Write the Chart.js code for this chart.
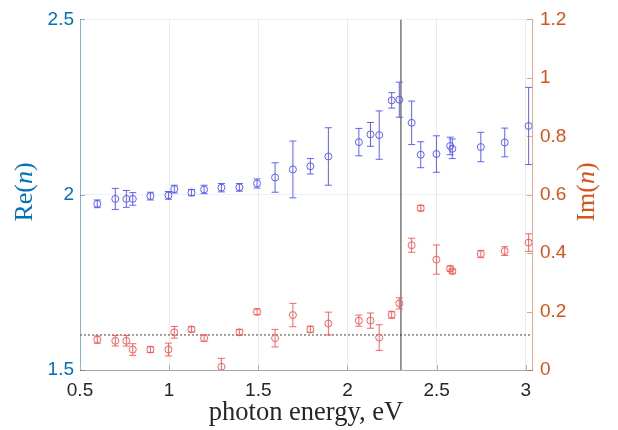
<!DOCTYPE html>
<html>
<head>
<meta charset="utf-8">
<script src="https://cdn.jsdelivr.net/npm/chart.js"></script>
<style>
 body{margin:0;background:#fff;}
 canvas{display:block;}
</style>
</head>
<body>
<canvas id="chart" width="618" height="430" style="width:618px;height:430px"></canvas>
<script>
// photon energies (eV), same for both series
const energy = [0.597, 0.698, 0.760, 0.796, 0.895, 0.996, 1.029, 1.125, 1.196, 1.293,
  1.394, 1.493, 1.594, 1.694, 1.792, 1.893, 2.064, 2.129, 2.178, 2.248,
  2.291, 2.360, 2.411, 2.499, 2.576, 2.588, 2.748, 2.882, 3.016];

const reN = [1.974, 1.988, 1.988, 1.988, 1.996, 1.998, 2.016, 2.006, 2.015, 2.020,
  2.021, 2.032, 2.049, 2.072, 2.081, 2.109, 2.150, 2.172, 2.170, 2.269,
  2.271, 2.205, 2.114, 2.116, 2.139, 2.131, 2.136, 2.149, 2.196];
const reErr = [0.011, 0.030, 0.024, 0.018, 0.011, 0.011, 0.011, 0.009, 0.012, 0.012,
  0.011, 0.013, 0.042, 0.081, 0.022, 0.082, 0.039, 0.034, 0.069, 0.022,
  0.050, 0.062, 0.037, 0.052, 0.025, 0.028, 0.042, 0.041, 0.11];

const imN = [0.104, 0.100, 0.100, 0.070, 0.070, 0.070, 0.129, 0.139, 0.109, 0.011,
  0.129, 0.199, 0.109, 0.188, 0.139, 0.159, 0.169, 0.169, 0.111, 0.189,
  0.228, 0.427, 0.554, 0.378, 0.347, 0.338, 0.397, 0.407, 0.436];
const imErr = [0.0125, 0.018, 0.018, 0.020, 0.010, 0.022, 0.020, 0.009, 0.011, 0.029,
  0.010, 0.010, 0.030, 0.040, 0.011, 0.039, 0.019, 0.026, 0.044, 0.012,
  0.019, 0.024, 0.0095, 0.050, 0.009, 0.007, 0.0125, 0.015, 0.030];

const xTicks = [0.5, 1, 1.5, 2, 2.5, 3];
const reTicks = [1.5, 2, 2.5];
const imTicks = [0, 0.2, 0.4, 0.6, 0.8, 1, 1.2];

const edgeEnergy = 2.3;   // vertical line
const refRe = 1.6;        // dotted level

const BLUE = '#0072BD';
const ORANGE = '#D95319';

Chart.defaults.font.family = '"Liberation Sans", Arial, Helvetica, sans-serif';

// error bars drawn from the data arrays through the chart scales
const errorBars = {
  id: 'errorBars',
  afterDatasetsDraw(chart) {
    const ctx = chart.ctx;
    const area = chart.chartArea;
    const xs = chart.scales.x;
    ctx.save();
    ctx.beginPath();
    ctx.rect(area.left, area.top, area.right - area.left, area.bottom - area.top);
    ctx.clip();
    chart.data.datasets.forEach(ds => {
      if (!ds.errors) return;
      const ys = chart.scales[ds.yAxisID];
      ctx.strokeStyle = ds.borderColor;
      ctx.lineWidth = 1;
      ds.data.forEach((p, i) => {
        const e = ds.errors[i];
        const px = xs.getPixelForValue(p.x);
        const y1 = ys.getPixelForValue(p.y - e);
        const y2 = ys.getPixelForValue(p.y + e);
        ctx.beginPath();
        ctx.moveTo(px, y1); ctx.lineTo(px, y2);
        ctx.moveTo(px - 3.5, y1); ctx.lineTo(px + 3.5, y1);
        ctx.moveTo(px - 3.5, y2); ctx.lineTo(px + 3.5, y2);
        ctx.stroke();
      });
    });
    ctx.restore();
  }
};

// inward tick marks and the rotated y titles
const decorations = {
  id: 'decorations',
  afterDraw(chart) {
    const ctx = chart.ctx;
    const a = chart.chartArea;
    const {x, y, y2} = chart.scales;
    ctx.save();
    ctx.lineWidth = 1;
    ctx.strokeStyle = '#b0b0b0';
    xTicks.forEach(v => {
      const p = Math.round(x.getPixelForValue(v)) + 0.5;
      ctx.beginPath(); ctx.moveTo(p, a.bottom); ctx.lineTo(p, a.bottom - 5); ctx.stroke();
    });
    ctx.strokeStyle = 'rgba(0,114,189,0.5)';
    reTicks.forEach(v => {
      const p = Math.round(y.getPixelForValue(v)) + 0.5;
      ctx.beginPath(); ctx.moveTo(a.left, p); ctx.lineTo(a.left + 5, p); ctx.stroke();
    });
    ctx.strokeStyle = 'rgba(217,83,25,0.55)';
    imTicks.forEach(v => {
      const p = Math.round(y2.getPixelForValue(v)) + 0.5;
      ctx.beginPath(); ctx.moveTo(a.right, p); ctx.lineTo(a.right - 5, p); ctx.stroke();
    });

    const drawTitle = (cx, cy, parts, color) => {
      ctx.save();
      ctx.translate(cx, cy);
      ctx.rotate(-Math.PI / 2);
      ctx.fillStyle = color;
      ctx.textBaseline = 'middle';
      ctx.textAlign = 'left';
      const fonts = parts.map(pt => (pt.italic ? 'italic ' : '') + '26px "Liberation Serif", "Times New Roman", serif');
      let total = 0;
      parts.forEach((pt, i) => { ctx.font = fonts[i]; total += ctx.measureText(pt.t).width; });
      let pos = -total / 2;
      parts.forEach((pt, i) => {
        ctx.font = fonts[i];
        ctx.fillText(pt.t, pos, 0);
        pos += ctx.measureText(pt.t).width;
      });
      ctx.restore();
    };
    drawTitle(25, 192, [{t: 'Re('}, {t: 'n', italic: true}, {t: ')'}], BLUE);
    drawTitle(587, 192, [{t: 'Im('}, {t: 'n', italic: true}, {t: ')'}], ORANGE);
    ctx.restore();
  }
};

const rePoints = energy.map((e, i) => ({x: e, y: reN[i]}));
const imPoints = energy.map((e, i) => ({x: e, y: imN[i]}));

new Chart(document.getElementById('chart'), {
  type: 'scatter',
  data: {
    datasets: [
      {
        label: 'Re(n)',
        data: rePoints,
        errors: reErr,
        yAxisID: 'y',
        borderColor: 'rgba(80,80,255,0.9)',
        backgroundColor: 'rgba(0,0,0,0)',
        pointRadius: 3.5,
        pointBorderWidth: 1,
        order: 1
      },
      {
        label: 'Im(n)',
        data: imPoints,
        errors: imErr,
        yAxisID: 'y2',
        borderColor: 'rgba(255,80,80,0.9)',
        backgroundColor: 'rgba(0,0,0,0)',
        pointRadius: 3.5,
        pointBorderWidth: 1,
        order: 2
      },
      {
        type: 'line',
        label: 'edge',
        data: [{x: edgeEnergy, y: reTicks[0]}, {x: edgeEnergy, y: reTicks[reTicks.length - 1]}],
        yAxisID: 'y',
        borderColor: '#333333',
        borderWidth: 1,
        pointRadius: 0,
        order: 3
      },
      {
        type: 'line',
        label: 'level',
        data: [{x: xTicks[0], y: refRe}, {x: 3.035, y: refRe}],
        yAxisID: 'y',
        borderColor: '#808080',
        borderWidth: 1.5,
        borderDash: [2, 2],
        pointRadius: 0,
        order: 4
      }
    ]
  },
  options: {
    responsive: false,
    maintainAspectRatio: false,
    animation: false,
    layout: {padding: {top: 15, left: 0, right: 0, bottom: 0}},
    plugins: {
      legend: {display: false},
      tooltip: {enabled: false}
    },
    scales: {
      x: {
        type: 'linear',
        min: 0.5,
        max: 3.035,
        afterBuildTicks: s => { s.ticks = xTicks.map(v => ({value: v})); },
        afterFit: s => { s.height = 60; },
        grid: {color: '#ebebeb', drawTicks: false},
        border: {color: '#a8a8a8'},
        ticks: {
          color: '#262626',
          font: {size: 19},
          padding: 9,
          maxRotation: 0,
          callback: v => String(v)
        },
        title: {
          display: true,
          text: 'photon energy, eV',
          color: '#262626',
          font: {family: '"Liberation Serif", "Times New Roman", serif', size: 26.5},
          padding: {top: 0, bottom: 1}
        }
      },
      y: {
        position: 'left',
        min: 1.5,
        max: 2.5,
        afterBuildTicks: s => { s.ticks = reTicks.map(v => ({value: v})); },
        afterFit: s => { s.width = 80; },
        grid: {color: 'rgba(0,114,189,0.09)', drawTicks: false},
        border: {color: 'rgba(0,114,189,0.45)'},
        ticks: {
          color: BLUE,
          font: {size: 19},
          padding: 6,
          callback: v => String(v)
        }
      },
      y2: {
        position: 'right',
        min: 0,
        max: 1.2,
        afterBuildTicks: s => { s.ticks = imTicks.map(v => ({value: v})); },
        afterFit: s => { s.width = 86; },
        grid: {drawOnChartArea: false, drawTicks: false},
        border: {color: 'rgba(217,83,25,0.5)'},
        ticks: {
          color: ORANGE,
          font: {size: 19},
          padding: 8,
          callback: v => String(v)
        }
      }
    }
  },
  plugins: [errorBars, decorations]
});
</script>
</body>
</html>
